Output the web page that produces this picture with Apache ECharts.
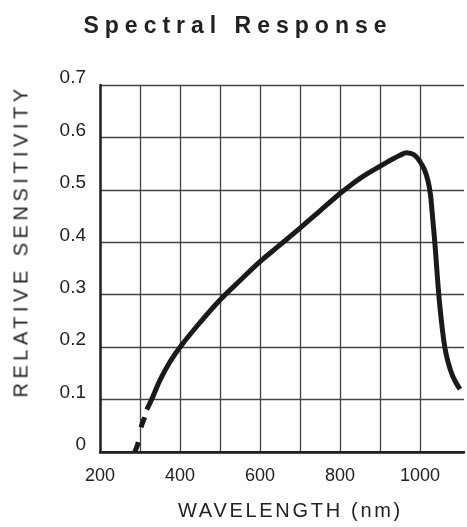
<!DOCTYPE html>
<html>
<head>
<meta charset="utf-8">
<script src="https://cdn.jsdelivr.net/npm/echarts@6/dist/echarts.min.js"></script>
<style>
  html, body { margin: 0; padding: 0; background: #fff; }
  .wrap { position: relative; width: 467px; height: 527px; overflow: hidden; }
  #chart { position: absolute; left: 0; top: 0; width: 467px; height: 527px; }
  .title {
    position: absolute; left: 0; top: 12px; width: 476px; text-align: center;
    font: bold 23px "Liberation Sans", Arial, sans-serif; letter-spacing: 6px; color: #222;
  }
  .xname {
    position: absolute; left: 0; top: 499px; width: 581px; text-align: center;
    font: 20px "Liberation Sans", Arial, sans-serif; letter-spacing: 2.7px; color: #222;
  }
  .yname {
    position: absolute; left: 21px; top: 241px; white-space: nowrap;
    transform: translate(-50%, -50%) rotate(-90deg);
    font: 20px "Liberation Sans", Arial, sans-serif; letter-spacing: 4.5px; color: #222;
  }
</style>
</head>
<body>
<div class="wrap">
  <div id="chart"></div>
  <div class="title">Spectral Response</div>
  <div class="yname">RELATIVE SENSITIVITY</div>
  <div class="xname">WAVELENGTH (nm)</div>
</div>
<script>
// 波长 (nm) / 相对灵敏度, 从图上读的
var dashWave = [287, 296, 303, 312, 317];
var dashSens = [0, 0.019, 0.048, 0.067, 0.081];

var wave = [317, 329, 350, 375, 400, 450, 500, 550, 600, 650, 700, 750, 800, 825, 850, 875, 900, 925, 950, 967, 985, 1000, 1012, 1020, 1026, 1030, 1037, 1047, 1055, 1062, 1070, 1080, 1090, 1100];
var sens = [0.081, 0.1, 0.137, 0.172, 0.2, 0.247, 0.29, 0.327, 0.363, 0.395, 0.427, 0.46, 0.493, 0.508, 0.522, 0.534, 0.545, 0.556, 0.566, 0.571, 0.567, 0.554, 0.537, 0.517, 0.492, 0.46, 0.4, 0.3, 0.24, 0.2, 0.172, 0.148, 0.132, 0.12];

function pairs(xs, ys) {
  return xs.map(function (x, i) { return [x, ys[i]]; });
}

var mychart = echarts.init(document.getElementById("chart"));
var textFont = { fontFamily: "Liberation Sans, Arial, sans-serif", color: "#222" };

mychart.setOption({
  animation: false,
  grid: { left: 100, right: -1, top: 85, bottom: 75 },
  xAxis: [
    {
      type: "value",
      min: 200,
      max: 1110,
      interval: 100,
      axisLine: { show: true, onZero: false, lineStyle: { color: "#222", width: 2.5 } },
      axisTick: { show: false },
      axisLabel: Object.assign({
        fontSize: 18,
        margin: 15,
        formatter: function (v) {
          return (v % 200 === 0 && v <= 1000) ? String(v) : "";
        }
      }, textFont),
      splitLine: {
        show: true,
        //最后两条不要
        lineStyle: {
          color: ["#444", "#444", "#444", "#444", "#444", "#444", "#444", "#444", "#444", "rgba(0,0,0,0)", "rgba(0,0,0,0)"],
          width: 1.3
        }
      }
    },
    {
      type: "value",
      position: "top",
      min: 200,
      max: 1110,
      axisLine: { show: true, lineStyle: { color: "#222", width: 2.2 } },
      axisTick: { show: false },
      axisLabel: { show: false },
      splitLine: { show: false }
    }
  ],
  yAxis: {
    type: "value",
    min: 0,
    max: 0.7,
    interval: 0.1,
    axisLine: { show: true, lineStyle: { color: "#222", width: 2.5 } },
    axisTick: { show: false },
    axisLabel: Object.assign({ fontSize: 19, margin: 14, verticalAlign: "bottom", lineHeight: 14 }, textFont),
    splitLine: { show: true, lineStyle: { color: "#444", width: 1.3 } }
  },
  series: [
    {
      type: "line",
      data: pairs(dashWave, dashSens),
      showSymbol: false,
      smooth: 0.3,
      lineStyle: { color: "#1a1a1a", width: 5, type: [10.5, 15, 10.8, 9] }
    },
    {
      type: "line",
      data: pairs(wave, sens),
      showSymbol: false,
      smooth: 0.4,
      lineStyle: { color: "#1a1a1a", width: 5 }
    }
  ]
});
</script>
</body>
</html>
